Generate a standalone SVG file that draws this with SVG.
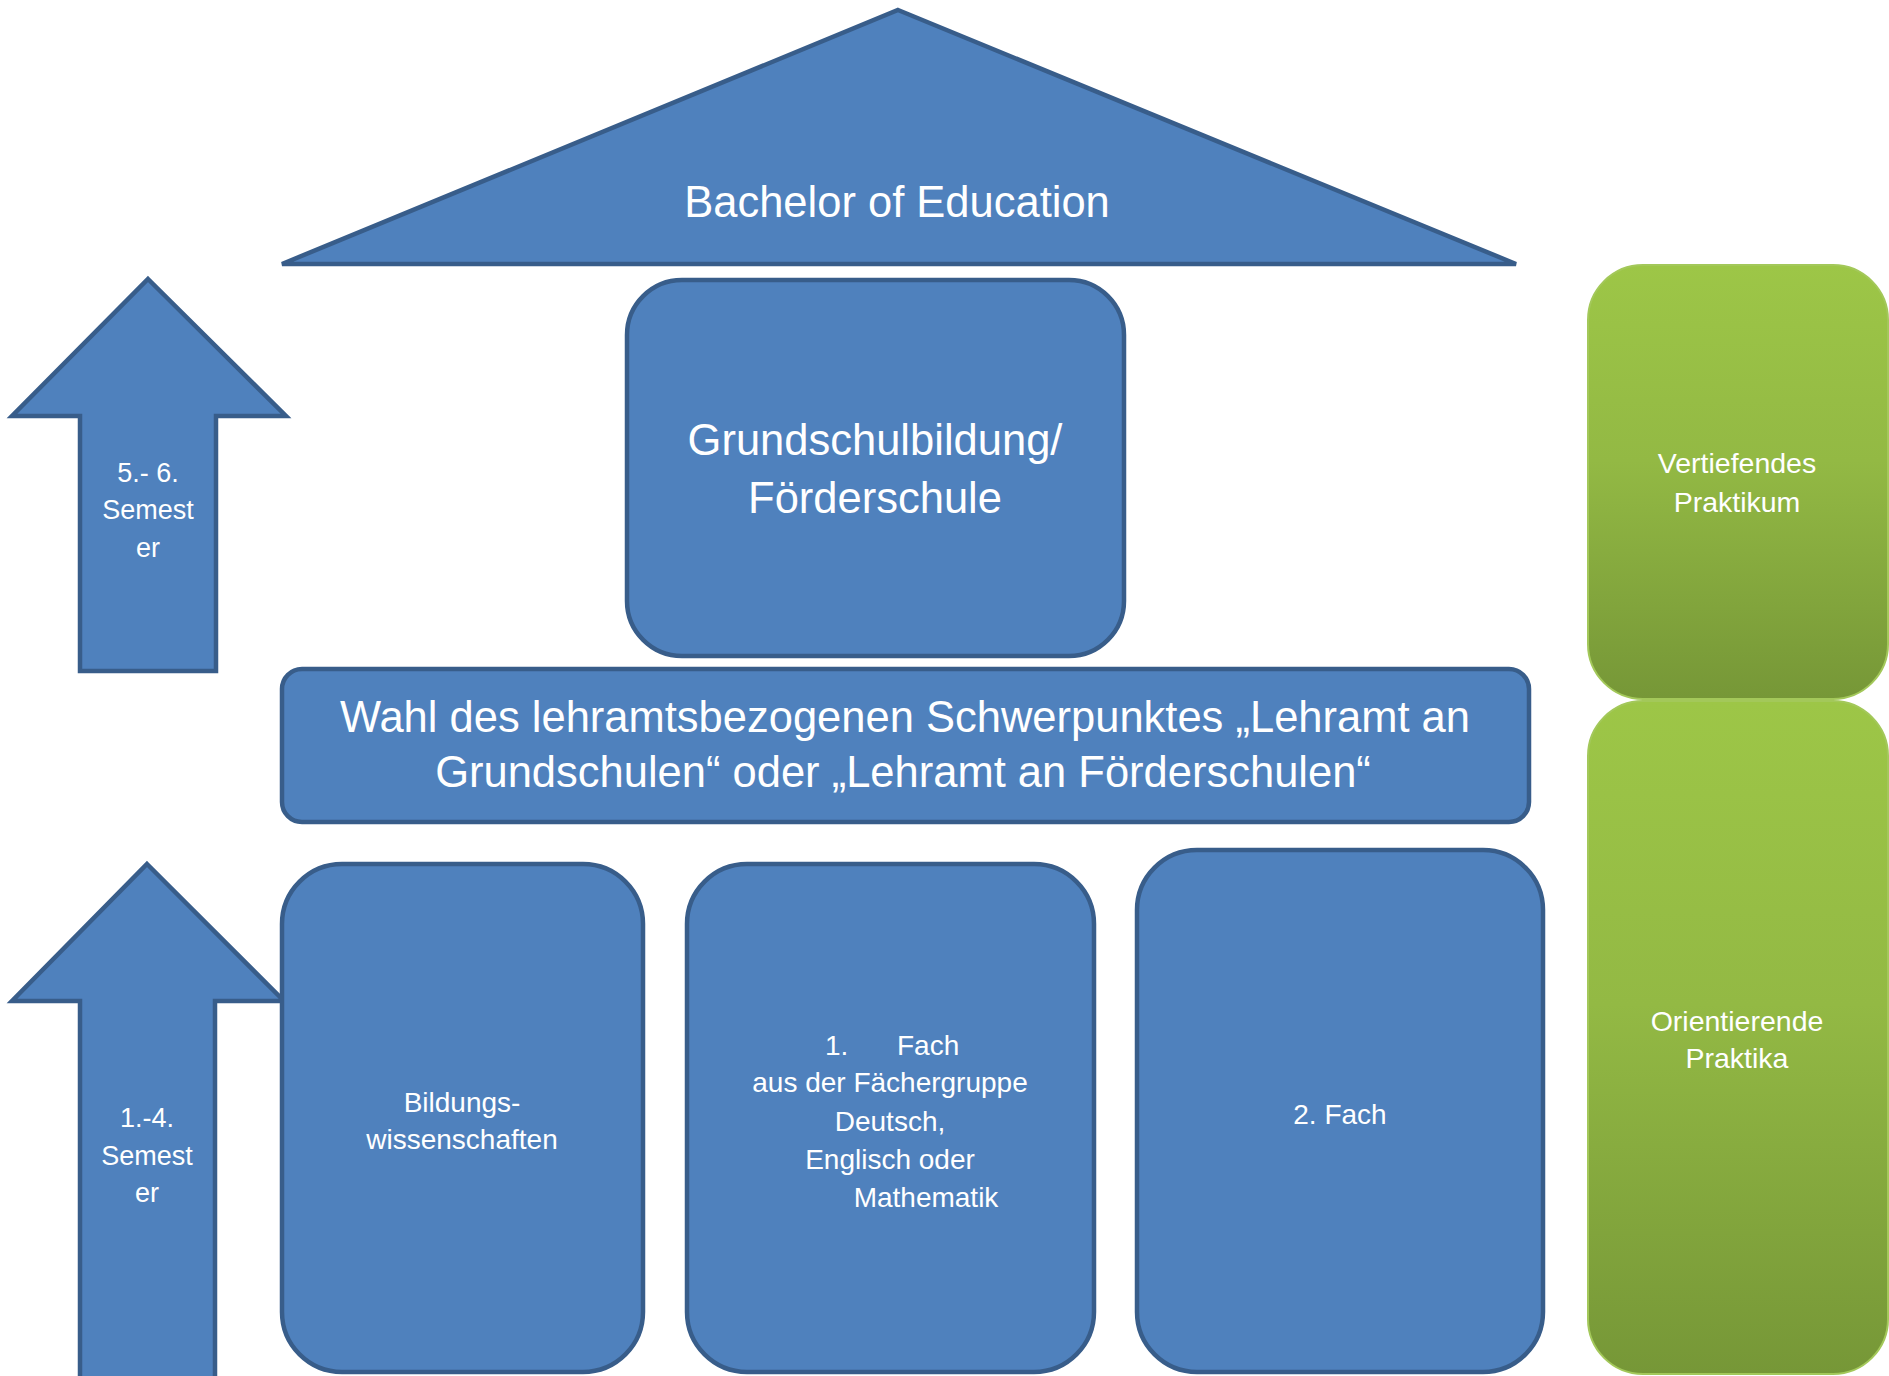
<svg xmlns="http://www.w3.org/2000/svg" width="1889" height="1376" viewBox="0 0 1889 1376">
<defs>
<linearGradient id="green" x1="0" y1="0" x2="0" y2="1">
<stop offset="0" stop-color="#9DC647"/>
<stop offset="0.45" stop-color="#93B944"/>
<stop offset="1" stop-color="#769737"/>
</linearGradient>
<style>
.blue{fill:#4F81BD;stroke:#385D8A;stroke-width:4.5;stroke-linejoin:miter}
.grn{fill:url(#green);stroke:#A3C85A;stroke-width:2}
text{font-family:"Liberation Sans",Arial,sans-serif;fill:#FFFFFF;text-anchor:middle}
.big{font-size:43.5px}
.mid{font-size:28px}
.sm{font-size:27px}
.g{font-size:28.5px}
</style>
</defs>
<rect width="1889" height="1376" fill="#FFFFFF"/>
<g id="connectors"/>
<g id="roof">
<polygon class="blue" points="898,10 1516,264 282,264"/>
<text class="big" x="897" y="217">Bachelor of Education</text>
</g>
<g id="arrow-5-6">
<polygon class="blue" points="148,279 286,416 216,416 216,671 80,671 80,416 12,416"/>
<text class="sm" x="148" y="482">5.- 6.</text>
<text class="sm" x="148" y="519">Semest</text>
<text class="sm" x="148" y="557">er</text>
</g>
<g id="grundschulbildung">
<rect class="blue" x="627" y="280" width="497" height="376" rx="55" ry="55"/>
<text class="big" x="875" y="455">Grundschulbildung/</text>
<text class="big" x="875" y="513">Förderschule</text>
</g>
<g id="wahl">
<rect class="blue" x="282" y="669" width="1247" height="153" rx="20" ry="20"/>
<text class="big" x="905" y="732">Wahl des lehramtsbezogenen Schwerpunktes „Lehramt an</text>
<text class="big" x="903" y="787">Grundschulen“ oder „Lehramt an Förderschulen“</text>
</g>
<g id="arrow-1-4">
<polygon class="blue" points="147,864 284,1001 215,1001 215,1395 80,1395 80,1001 12,1001"/>
<text class="sm" x="147" y="1127">1.-4.</text>
<text class="sm" x="147" y="1165">Semest</text>
<text class="sm" x="147" y="1202">er</text>
</g>
<g id="bildungswissenschaften">
<rect class="blue" x="282" y="864" width="361" height="508" rx="60" ry="60"/>
<text class="mid" x="462" y="1112">Bildungs-</text>
<text class="mid" x="462" y="1149">wissenschaften</text>
</g>
<g id="fach1">
<rect class="blue" x="687" y="864" width="407" height="508" rx="60" ry="60"/>
<text class="mid" x="825" y="1055" style="text-anchor:start">1.</text>
<text class="mid" x="897" y="1055" style="text-anchor:start">Fach</text>
<text class="mid" x="890" y="1092">aus der Fächergruppe</text>
<text class="mid" x="890" y="1131">Deutsch,</text>
<text class="mid" x="890" y="1169">Englisch oder</text>
<text class="mid" x="926" y="1207">Mathematik</text>
</g>
<g id="fach2">
<rect class="blue" x="1137" y="850" width="406" height="522" rx="60" ry="60"/>
<text class="mid" x="1340" y="1124">2. Fach</text>
</g>
<g id="vertiefendes-praktikum">
<rect class="grn" x="1588" y="265" width="300" height="434" rx="55" ry="55"/>
<text class="g" x="1737" y="473">Vertiefendes</text>
<text class="g" x="1737" y="512">Praktikum</text>
</g>
<g id="orientierende-praktika">
<rect class="grn" x="1588" y="701" width="300" height="673" rx="55" ry="55"/>
<text class="g" x="1737" y="1031">Orientierende</text>
<text class="g" x="1737" y="1068">Praktika</text>
</g>
</svg>
